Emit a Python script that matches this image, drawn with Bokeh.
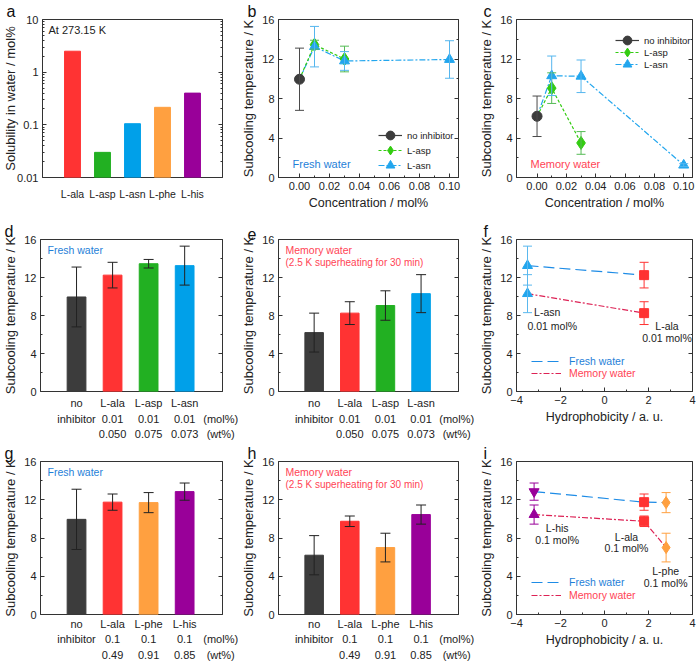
from bokeh.plotting import figure
from bokeh.layouts import row, column
from bokeh.models import (Range1d, LinearAxis, LogAxis, FixedTicker, Whisker, TeeHead,
                          ColumnDataSource, Label, Legend, LegendItem, PrintfTickFormatter)
from bokeh.embed import file_html
from bokeh.resources import INLINE

FONT = "Liberation Sans"
INK = "#222222"
FRAME = "#333333"
DARK = "#3c3c3c"
RED = "#ff3333"
GREEN = "#22b022"
BLUE = "#00a0e9"
ORANGE = "#ffa040"
PURPLE = "#990099"
ASP_C = "#33cc11"
ASN_C = "#22a6ee"
FRESH_LINE = "#1e8ce6"
MEM_LINE = "#dd2255"
FRESH_TXT = "#1f7fd8"
MEM_TXT = "#ff4455"

# ---------------- data ----------------
# (a) solubility in water at 273.15 K / mol%
sol_names = ["L-ala", "L-asp", "L-asn", "L-phe", "L-his"]
sol_values = [2.5, 0.030, 0.105, 0.215, 0.40]
sol_colors = [RED, GREEN, BLUE, ORANGE, PURPLE]

# no inhibitor
none_fresh_mean = 9.95
none_fresh_err = 3.15
none_mem_mean = 6.2
none_mem_err = 2.05

# (b)/(c) concentration series
asp_conc = [0.01, 0.03]
asp_fresh_mean = [13.45, 12.0]
asp_fresh_err = [0.45, 1.3]
asp_mem_mean = [9.05, 3.5]
asp_mem_err = [1.55, 1.15]
asn_conc = [0.01, 0.03, 0.10]
asn_fresh_mean = [13.25, 11.8, 11.95]
asn_fresh_err = [2.05, 0.95, 1.9]
asn_mem_mean = [10.3, 10.25, 1.25]
asn_mem_err = [2.0, 1.65, 0.15]
legend_labels = ["no inhibitor", "L-asp", "L-asn"]

# (d)/(e) 0.01 mol%
set1_names = ["no", "L-ala", "L-asp", "L-asn"]
set1_line2 = ["inhibitor", "0.01", "0.01", "0.01"]
set1_line3 = ["", "0.050", "0.075", "0.073"]
set1_colors = [DARK, RED, GREEN, BLUE]
set1_fresh_mean = [9.95, 12.25, 13.45, 13.25]
set1_fresh_err = [3.15, 1.35, 0.45, 2.05]
set1_mem_mean = [6.2, 8.25, 9.05, 10.3]
set1_mem_err = [2.05, 1.2, 1.55, 2.0]

# (g)/(h) 0.1 mol%
set2_names = ["no", "L-ala", "L-phe", "L-his"]
set2_line2 = ["inhibitor", "0.1", "0.1", "0.1"]
set2_line3 = ["", "0.49", "0.91", "0.85"]
set2_colors = [DARK, RED, ORANGE, PURPLE]
set2_fresh_mean = [9.95, 11.75, 11.7, 12.85]
set2_fresh_err = [3.15, 0.85, 1.05, 0.9]
set2_mem_mean = [6.2, 9.75, 7.0, 10.45]
set2_mem_err = [2.05, 0.55, 1.5, 1.0]

unit_line2 = "(mol%)"
unit_line3 = "(wt%)"

# (f) hydrophobicity, 0.01 mol%
f_names = ["L-asn", "L-ala"]
f_hyd = [-3.5, 1.8]
f_fresh_mean = [13.25, 12.25]
f_fresh_err = [2.05, 1.35]
f_mem_mean = [10.3, 8.25]
f_mem_err = [2.0, 1.2]
f_colors = [ASN_C, RED]
f_markers_fresh = ["triangle", "square"]
f_markers_mem = ["triangle", "square"]

# (i) hydrophobicity, 0.1 mol%
i_names = ["L-his", "L-ala", "L-phe"]
i_hyd = [-3.2, 1.8, 2.8]
i_fresh_mean = [12.85, 11.75, 11.7]
i_fresh_err = [0.9, 0.85, 1.05]
i_mem_mean = [10.45, 9.75, 7.0]
i_mem_err = [1.0, 0.55, 1.5]
i_colors = [PURPLE, RED, ORANGE]
i_markers_fresh = ["inverted_triangle", "square", "diamond"]
i_markers_mem = ["triangle", "square", "diamond"]

y_ticks = [0, 4, 8, 12, 16]
y_minor = [2, 6, 10, 14]
hyd_ticks = [-4, -2, 0, 2, 4]
hyd_minor = [-3, -1, 1, 3]
conc_ticks = [0.0, 0.02, 0.04, 0.06, 0.08, 0.10]
conc_minor = [0.01, 0.03, 0.05, 0.07, 0.09]
log_ticks = [0.01, 0.1, 1, 10]

# ---------------- layout ----------------
COL_W = [238, 238, 223]
COL_BL = [38, 35, 37]
COL_BR = [16, 18, 7]
ROW_H = [218, 224, 221]
ROW_BT = [18, 21, 16]
ROW_BB = [41, 46, 47]


def new_fig(col, rw, xr, yr, letter, log=False):
    p = figure(width=COL_W[col], height=ROW_H[rw],
               min_border_left=COL_BL[col], min_border_right=COL_BR[col],
               min_border_top=ROW_BT[rw], min_border_bottom=ROW_BB[rw],
               x_range=Range1d(*xr), y_range=Range1d(*yr),
               y_axis_type="log" if log else "linear",
               title=letter,
               output_backend="svg", toolbar_location=None, tools="")
    p.grid.visible = False
    p.outline_line_color = FRAME
    p.outline_line_width = 1
    p.background_fill_color = "white"
    p.border_fill_color = "white"
    t = p.title
    t.text_font = FONT
    t.text_font_size = "16px"
    t.text_font_style = "normal"
    t.text_color = "#111111"
    t.align = "left"
    t.standoff = 0
    t.offset = -COL_BL[col] + (2 if col == 0 else 4)
    return p


def style_axis(ax, show_labels=True, label_size="13px"):
    ax.axis_line_color = FRAME
    ax.major_tick_line_color = FRAME
    ax.minor_tick_line_color = FRAME
    ax.major_tick_in = 4
    ax.major_tick_out = 0
    ax.minor_tick_in = 2
    ax.minor_tick_out = 0
    ax.major_label_text_font = FONT
    ax.major_label_text_font_size = "11px" if show_labels else "1px"
    ax.major_label_text_color = INK
    if not show_labels:
        ax.major_label_text_alpha = 0
    ax.major_label_standoff = 4 if show_labels else 0
    ax.axis_label_text_font = FONT
    ax.axis_label_text_font_style = "normal"
    ax.axis_label_text_font_size = label_size
    ax.axis_label_text_color = INK
    ax.axis_label_standoff = 3


def setup_y(p, label="Subcooling temperature / K"):
    ax = p.yaxis[0]
    ax.ticker = FixedTicker(ticks=y_ticks, minor_ticks=y_minor)
    style_axis(ax)
    ax.axis_label = label
    rax = LinearAxis(ticker=FixedTicker(ticks=y_ticks, minor_ticks=y_minor))
    style_axis(rax, show_labels=False)
    p.add_layout(rax, "right")


def txt(p, x, y, s, size="11px", color=INK, align="left", baseline="middle", xo=0, yo=0):
    p.add_layout(Label(x=x, y=y, text=s, x_offset=xo, y_offset=yo, text_font=FONT,
                       text_font_size=size, text_color=color, text_align=align,
                       text_baseline=baseline))


def err(p, xs, means, errs, color, size=9):
    lo = [m - e for m, e in zip(means, errs)]
    hi = [m + e for m, e in zip(means, errs)]
    src = ColumnDataSource(dict(x=list(xs), lo=lo, hi=hi))
    w = Whisker(source=src, base="x", lower="lo", upper="hi", dimension="height",
                line_color=color, line_width=1,
                lower_head=TeeHead(size=size, line_color=color, line_width=1),
                upper_head=TeeHead(size=size, line_color=color, line_width=1),
                level="glyph")
    p.add_layout(w)


def cat_axis(ax, ticks, labels, standoff):
    ax.ticker = FixedTicker(ticks=ticks)
    ax.major_label_overrides = {t: s for t, s in zip(ticks, labels)}
    ax.axis_line_color = None
    ax.major_tick_line_color = None
    ax.minor_tick_line_color = None
    ax.major_tick_in = 0
    ax.major_tick_out = 0
    ax.minor_tick_in = 0
    ax.minor_tick_out = 0
    ax.major_label_standoff = standoff
    ax.major_label_text_font = FONT
    ax.major_label_text_font_size = "11px"
    ax.major_label_text_color = INK


# ---------------- (a) ----------------
pa = new_fig(0, 0, (0, 6), (0.01, 10), "a", log=True)
ax = pa.yaxis[0]
minor_log = [m * 10.0 ** k for k in (-2, -1, 0) for m in range(2, 10)]
ax.ticker = FixedTicker(ticks=log_ticks, minor_ticks=minor_log)
style_axis(ax)
ax.axis_label_standoff = -4
ax.major_label_overrides = {0.01: "0.01", 0.1: "0.1", 1: "1", 10: "10"}
ax.axis_label = "Solubility in water / mol%"
rax = LogAxis(ticker=FixedTicker(ticks=log_ticks, minor_ticks=minor_log))
style_axis(rax, show_labels=False)
pa.add_layout(rax, "right")
xs_a = list(range(1, len(sol_names) + 1))
cat_axis(pa.xaxis[0], xs_a, sol_names, 10)
pa.xaxis[0].major_label_text_font_size = "10.5px"
pa.vbar(x=xs_a, top=sol_values, bottom=0.01, width=0.53,
        fill_color=sol_colors, line_color=sol_colors)
txt(pa, 0, 10, "At 273.15 K", size="11px", xo=6, yo=-10)


# ---------------- (b), (c) ----------------
LEG_GH = 22


def conc_panel(col, none_mean, none_err, asp_m, asp_e, asn_m, asn_e, label, label_color,
               leg_x, leg_ys, letter):
    p = new_fig(col, 0, (-0.014, 0.106), (0, 16), letter)
    setup_y(p)
    bx = p.xaxis[0]
    bx.ticker = FixedTicker(ticks=conc_ticks, minor_ticks=conc_minor)
    bx.formatter = PrintfTickFormatter(format="%.2f")
    style_axis(bx, label_size="12.5px")
    bx.axis_label = "Concentration / mol%"
    asp_x = [0.0] + asp_conc
    asp_y = [none_mean] + asp_m
    asn_x = [0.0] + asn_conc
    asn_y = [none_mean] + asn_m
    r_asn_l = p.line(asn_x, asn_y, line_color=ASN_C, line_width=1.2, line_dash="6 2 2 2")
    r_asp_l = p.line(asp_x, asp_y, line_color=ASP_C, line_width=1.2, line_dash="3 2")
    r_none_l = p.line([0.0], [none_mean], line_color=DARK, line_width=1.2)
    err(p, [0.0], [none_mean], [none_err], "#4a4a4a")
    err(p, asp_conc, asp_m, asp_e, "#55bb55")
    err(p, asn_conc, asn_m, asn_e, "#55b6ee")
    r_asp_m = p.scatter(asp_conc, asp_m, marker="diamond", size=13, color=ASP_C)
    r_asn_m = p.scatter(asn_conc, asn_m, marker="triangle", size=10, color=ASN_C)
    r_none_m = p.scatter([0.0], [none_mean], marker="circle", size=10, color=DARK)
    rends = [[r_none_l, r_none_m], [r_asp_l, r_asp_m], [r_asn_l, r_asn_m]]
    for lab, rr, ly in zip(legend_labels, rends, leg_ys):
        leg = Legend(items=[LegendItem(label=lab, renderers=rr)],
                     location=(leg_x, ly), orientation="vertical",
                     border_line_color=None, background_fill_alpha=0,
                     padding=0, margin=0, glyph_width=24, glyph_height=LEG_GH,
                     label_height=LEG_GH, spacing=0, label_standoff=5,
                     label_text_font=FONT, label_text_font_size="9.5px",
                     label_text_color=INK)
        p.add_layout(leg)
    txt(p, -0.014, 0, label, size="11px", color=label_color, xo=14, yo=14)
    return p


pb = conc_panel(1, none_fresh_mean, none_fresh_err, asp_fresh_mean, asp_fresh_err,
                asn_fresh_mean, asn_fresh_err, "Fresh water", FRESH_TXT, 100, (31, 16, 1), "b")
pc = conc_panel(2, none_mem_mean, none_mem_err, asp_mem_mean, asp_mem_err,
                asn_mem_mean, asn_mem_err, "Memory water", MEM_TXT, 99, (126, 114, 102), "c")


# ---------------- bar panels ----------------
def bar_panel(col, rw, names, line2, line3, colors, means, errs, letter, water):
    p = new_fig(col, rw, (0, 5.05), (0, 16), letter)
    setup_y(p)
    xs = list(range(1, len(names) + 1))
    src = ColumnDataSource(dict(x=xs, top=means, c=colors))
    p.vbar(x="x", top="top", width=0.52, fill_color="c", line_color="c", source=src)
    err(p, xs, means, errs, "#222222", size=10)
    stand = [5, 1, 0] if rw == 1 else [3, 0, 1]
    cat_axis(p.xaxis[0], xs, names, stand[0])
    ax2 = LinearAxis()
    cat_axis(ax2, xs + [5], line2 + [unit_line2], stand[1])
    p.add_layout(ax2, "below")
    ax3 = LinearAxis()
    cat_axis(ax3, xs + [5], line3 + [unit_line3], stand[2])
    p.add_layout(ax3, "below")
    if water == "fresh":
        txt(p, 0, 16, "Fresh water", size="10.5px", color=FRESH_TXT, xo=7, yo=-10)
    else:
        txt(p, 0, 16, "Memory water", size="10.5px", color=MEM_TXT, xo=7, yo=-10)
        txt(p, 0, 16, "(2.5 K superheating for 30 min)", size="10px", color=MEM_TXT,
            xo=7, yo=-23)
    return p


pd_ = bar_panel(0, 1, set1_names, set1_line2, set1_line3, set1_colors,
                set1_fresh_mean, set1_fresh_err, "d", "fresh")
pe = bar_panel(1, 1, set1_names, set1_line2, set1_line3, set1_colors,
               set1_mem_mean, set1_mem_err, "e", "memory")
pg = bar_panel(0, 2, set2_names, set2_line2, set2_line3, set2_colors,
               set2_fresh_mean, set2_fresh_err, "g", "fresh")
ph = bar_panel(1, 2, set2_names, set2_line2, set2_line3, set2_colors,
               set2_mem_mean, set2_mem_err, "h", "memory")


# ---------------- hydrophobicity panels ----------------
def hyd_panel(rw, hyd, fm, fe, mm, me, colors, mk_f, mk_m, letter, notes, leg_y):
    p = new_fig(2, rw, (-4, 4), (0, 16), letter)
    setup_y(p)
    bx = p.xaxis[0]
    bx.ticker = FixedTicker(ticks=hyd_ticks, minor_ticks=hyd_minor)
    style_axis(bx, label_size="12.5px")
    bx.axis_label = "Hydrophobicity / a. u."
    order = sorted(range(len(hyd)), key=lambda k: hyd[k])
    r_f = p.line([hyd[k] for k in order], [fm[k] for k in order], line_color=FRESH_LINE,
                 line_width=1.2, line_dash="11 5")
    r_m = p.line([hyd[k] for k in order], [mm[k] for k in order], line_color=MEM_LINE,
                 line_width=1.2, line_dash="6 2 2 2")
    for k in range(len(hyd)):
        c = colors[k]
        ec = "#5ab8ee" if c == ASN_C else c
        err(p, [hyd[k]], [fm[k]], [fe[k]], ec)
        err(p, [hyd[k]], [mm[k]], [me[k]], ec)
    for k in range(len(hyd)):
        for mk, yv in ((mk_f[k], fm[k]), (mk_m[k], mm[k])):
            sz = 12 if mk == "diamond" else (9 if mk == "square" else 10)
            p.scatter([hyd[k]], [yv], marker=mk, size=sz, color=colors[k])
    for (x, y, s, al) in notes:
        txt(p, x, y, s, size="10.5px", align=al)
    for item, col_, yb in ((LegendItem(label="Fresh water", renderers=[r_f]), FRESH_TXT, leg_y[0]),
                           (LegendItem(label="Memory water", renderers=[r_m]), MEM_TXT, leg_y[1])):
        leg = Legend(items=[item], location=(15, yb), border_line_color=None,
                     background_fill_alpha=0, padding=0, margin=0, glyph_width=30,
                     glyph_height=12, label_height=12, label_standoff=8,
                     label_text_font=FONT, label_text_font_size="10.5px",
                     label_text_color=col_)
        p.add_layout(leg)
    return p


f_notes = [(-3.2, 8.35, "L-asn", "left"), (-3.5, 6.85, "0.01 mol%", "left"),
           (2.84, 6.85, "L-ala", "center"), (2.84, 5.6, "0.01 mol%", "center")]
pf = hyd_panel(1, f_hyd, f_fresh_mean, f_fresh_err, f_mem_mean, f_mem_err, f_colors,
               f_markers_fresh, f_markers_mem, "f", f_notes, (24, 12))

i_notes = [(-2.15, 9.0, "L-his", "center"), (-2.15, 7.8, "0.1 mol%", "center"),
           (1.0, 8.1, "L-ala", "center"), (1.0, 7.0, "0.1 mol%", "center"),
           (2.78, 4.6, "L-phe", "center"), (2.78, 3.3, "0.1 mol%", "center")]
pi = hyd_panel(2, i_hyd, i_fresh_mean, i_fresh_err, i_mem_mean, i_mem_err, i_colors,
               i_markers_fresh, i_markers_mem, "i", i_notes, (26, 13))

layout = column(row(pa, pb, pc, spacing=0), row(pd_, pe, pf, spacing=0),
                row(pg, ph, pi, spacing=0), spacing=0)

with open("out.html", "w") as fh:
    fh.write(file_html(layout, INLINE))
